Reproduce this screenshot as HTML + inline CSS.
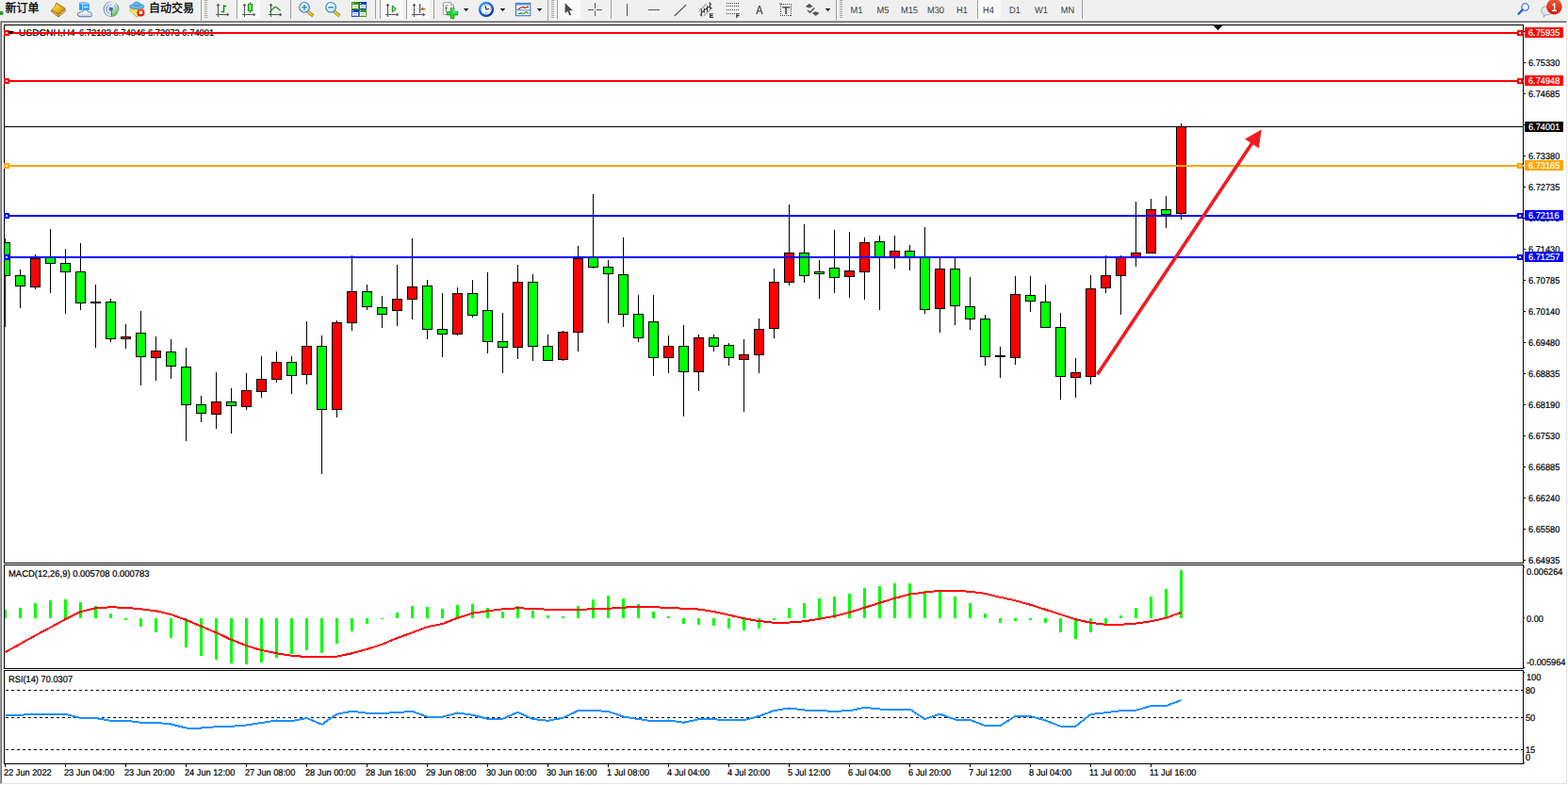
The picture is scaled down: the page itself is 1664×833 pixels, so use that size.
<!DOCTYPE html>
<html><head><meta charset="utf-8"><title>USDCNH,H4</title>
<style>
html,body{margin:0;padding:0;background:#fff;overflow:hidden}
body{width:1664px;height:833px;position:relative;font-family:"Liberation Sans",sans-serif}
#tb{position:absolute;left:0;top:0;width:1664px;height:22px;background:#f0f0f0}
svg{position:absolute;left:0;top:0}
.t{position:absolute;font:9.8px/10px "Liberation Sans",sans-serif;white-space:pre;transform-origin:0 0;transform:scaleX(.94);text-rendering:geometricPrecision;-webkit-text-stroke:.22px}
.lb{position:absolute;left:1618px;width:41px;height:11px}
.tf{position:absolute;top:7px;width:40px;text-align:center;font:9.8px/10px "Liberation Sans",sans-serif;color:#404040;transform:scaleX(.95);text-rendering:geometricPrecision}
</style></head><body>
<div id="tb"></div>
<div class="t" style="left:20.3px;top:31px;transform:scaleX(1.045)">USDCNH,H4</div><div class="t" style="left:84px;top:31px;transform:scaleX(.956)">6.72183 6.74046 6.72073 6.74001</div>
<div class="t" style="left:1622px;top:63px;color:#000;">6.75330</div><div class="t" style="left:1622px;top:96px;color:#000;">6.74685</div><div class="t" style="left:1622px;top:162px;color:#000;">6.73380</div><div class="t" style="left:1622px;top:195px;color:#000;">6.72735</div><div class="t" style="left:1622px;top:228px;color:#000;">6.72075</div><div class="t" style="left:1622px;top:261px;color:#000;">6.71430</div><div class="t" style="left:1622px;top:294px;color:#000;">6.70785</div><div class="t" style="left:1622px;top:327px;color:#000;">6.70140</div><div class="t" style="left:1622px;top:360px;color:#000;">6.69480</div><div class="t" style="left:1622px;top:393px;color:#000;">6.68835</div><div class="t" style="left:1622px;top:426px;color:#000;">6.68190</div><div class="t" style="left:1622px;top:459px;color:#000;">6.67530</div><div class="t" style="left:1622px;top:492px;color:#000;">6.66885</div><div class="t" style="left:1622px;top:525px;color:#000;">6.66240</div><div class="t" style="left:1622px;top:558px;color:#000;">6.65580</div><div class="t" style="left:1622px;top:591px;color:#000;">6.64935</div><div class="t" style="left:1619.6px;top:603px;color:#000;">0.006264</div><div class="t" style="left:1619.6px;top:653px;color:#000;">0.00</div><div class="t" style="left:1619.6px;top:699px;color:#000;">-0.005964</div><div class="t" style="left:1619.6px;top:715px;color:#000;">100</div><div class="t" style="left:1618.8px;top:729px;color:#000;">80</div><div class="t" style="left:1618.8px;top:758px;color:#000;">50</div><div class="t" style="left:1618.8px;top:792px;color:#000;">15</div><div class="t" style="left:1618.8px;top:800px;color:#000;">0</div><div class="t" style="left:4.3px;top:816px;color:#000;">22 Jun 2022</div><div class="t" style="left:68.3px;top:816px;color:#000;">23 Jun 04:00</div><div class="t" style="left:132.3px;top:816px;color:#000;">23 Jun 20:00</div><div class="t" style="left:196.3px;top:816px;color:#000;">24 Jun 12:00</div><div class="t" style="left:260.3px;top:816px;color:#000;">27 Jun 08:00</div><div class="t" style="left:324.3px;top:816px;color:#000;">28 Jun 00:00</div><div class="t" style="left:388.3px;top:816px;color:#000;">28 Jun 16:00</div><div class="t" style="left:452.3px;top:816px;color:#000;">29 Jun 08:00</div><div class="t" style="left:516.3px;top:816px;color:#000;">30 Jun 00:00</div><div class="t" style="left:580.3px;top:816px;color:#000;">30 Jun 16:00</div><div class="t" style="left:644.3px;top:816px;color:#000;">1 Jul 08:00</div><div class="t" style="left:708.3px;top:816px;color:#000;">4 Jul 04:00</div><div class="t" style="left:772.3px;top:816px;color:#000;">4 Jul 20:00</div><div class="t" style="left:836.3px;top:816px;color:#000;">5 Jul 12:00</div><div class="t" style="left:900.3px;top:816px;color:#000;">6 Jul 04:00</div><div class="t" style="left:964.3px;top:816px;color:#000;">6 Jul 20:00</div><div class="t" style="left:1028.3px;top:816px;color:#000;">7 Jul 12:00</div><div class="t" style="left:1092.3px;top:816px;color:#000;">8 Jul 04:00</div><div class="t" style="left:1156.3px;top:816px;color:#000;">11 Jul 00:00</div><div class="t" style="left:1220.3px;top:816px;color:#000;">11 Jul 16:00</div><div class="t" style="left:8.9px;top:605px;color:#000;transform:scaleX(.963)">MACD(12,26,9) 0.005708 0.000783</div><div class="t" style="left:8.9px;top:717px;color:#000;transform:scaleX(.947)">RSI(14) 70.0307</div>
<svg width="1664" height="833" viewBox="0 0 1664 833" shape-rendering="crispEdges">
<rect x="0" y="22" width="1664" height="1" fill="#a0a0a0"/>
<rect x="0" y="23" width="1664" height="1" fill="#696969"/>
<rect x="0" y="22" width="1" height="811" fill="#a0a0a0"/>
<rect x="1" y="23" width="1" height="810" fill="#696969"/>
<rect x="1662" y="23" width="1" height="810" fill="#e3e3e3"/>
<rect x="1663" y="22" width="1" height="811" fill="#ffffff"/>
<rect x="1" y="831" width="1662" height="1" fill="#e3e3e3"/>
<rect x="0" y="832" width="1664" height="1" fill="#ffffff"/>
<rect x="4" y="26" width="1613" height="1" fill="#000"/>
<rect x="4" y="597" width="1613" height="1" fill="#000"/>
<rect x="4" y="26" width="1" height="572" fill="#000"/>
<rect x="1616" y="26" width="1" height="572" fill="#000"/>
<rect x="4" y="599" width="1613" height="1" fill="#000"/>
<rect x="4" y="709" width="1613" height="1" fill="#000"/>
<rect x="4" y="599" width="1" height="111" fill="#000"/>
<rect x="1616" y="599" width="1" height="111" fill="#000"/>
<rect x="4" y="711" width="1613" height="1" fill="#000"/>
<rect x="4" y="810" width="1613" height="1" fill="#000"/>
<rect x="4" y="711" width="1" height="100" fill="#000"/>
<rect x="1616" y="711" width="1" height="100" fill="#000"/>
<rect x="1288" y="27" width="9" height="1" fill="#000"/>
<rect x="1289" y="28" width="7" height="1" fill="#000"/>
<rect x="1290" y="29" width="5" height="1" fill="#000"/>
<rect x="1291" y="30" width="3" height="1" fill="#000"/>
<rect x="1292" y="31" width="1" height="1" fill="#000"/>
<rect x="1617" y="33" width="2" height="1" fill="#000"/>
<rect x="1617" y="66" width="2" height="1" fill="#000"/>
<rect x="1617" y="99" width="2" height="1" fill="#000"/>
<rect x="1617" y="132" width="2" height="1" fill="#000"/>
<rect x="1617" y="165" width="2" height="1" fill="#000"/>
<rect x="1617" y="198" width="2" height="1" fill="#000"/>
<rect x="1617" y="231" width="2" height="1" fill="#000"/>
<rect x="1617" y="264" width="2" height="1" fill="#000"/>
<rect x="1617" y="297" width="2" height="1" fill="#000"/>
<rect x="1617" y="330" width="2" height="1" fill="#000"/>
<rect x="1617" y="363" width="2" height="1" fill="#000"/>
<rect x="1617" y="396" width="2" height="1" fill="#000"/>
<rect x="1617" y="429" width="2" height="1" fill="#000"/>
<rect x="1617" y="462" width="2" height="1" fill="#000"/>
<rect x="1617" y="495" width="2" height="1" fill="#000"/>
<rect x="1617" y="528" width="2" height="1" fill="#000"/>
<rect x="1617" y="561" width="2" height="1" fill="#000"/>
<rect x="1617" y="594" width="2" height="1" fill="#000"/>
<rect x="1617" y="601" width="1" height="1" fill="#000"/>
<rect x="1617" y="655" width="1" height="1" fill="#000"/>
<rect x="1617" y="708" width="1" height="1" fill="#000"/>
<rect x="1617" y="713" width="1" height="1" fill="#000"/>
<rect x="1617" y="809" width="1" height="1" fill="#000"/>
<rect x="5" y="253" width="1" height="94" fill="#000"/>
<rect x="5" y="257" width="6" height="36" fill="#000"/>
<rect x="5" y="258" width="5" height="34" fill="#00ff00"/>
<rect x="21" y="286" width="1" height="41" fill="#000"/>
<rect x="16" y="292" width="11" height="12" fill="#000"/>
<rect x="17" y="293" width="9" height="10" fill="#00ff00"/>
<rect x="37" y="270" width="1" height="37" fill="#000"/>
<rect x="32" y="274" width="11" height="31" fill="#000"/>
<rect x="33" y="275" width="9" height="29" fill="#ff0000"/>
<rect x="53" y="243" width="1" height="68" fill="#000"/>
<rect x="48" y="272" width="11" height="8" fill="#000"/>
<rect x="49" y="273" width="9" height="6" fill="#00ff00"/>
<rect x="69" y="264" width="1" height="69" fill="#000"/>
<rect x="64" y="279" width="11" height="10" fill="#000"/>
<rect x="65" y="280" width="9" height="8" fill="#00ff00"/>
<rect x="85" y="258" width="1" height="71" fill="#000"/>
<rect x="80" y="288" width="11" height="34" fill="#000"/>
<rect x="81" y="289" width="9" height="32" fill="#00ff00"/>
<rect x="101" y="302" width="1" height="67" fill="#000"/>
<rect x="96" y="320" width="11" height="2" fill="#000"/>
<rect x="117" y="317" width="1" height="46" fill="#000"/>
<rect x="112" y="320" width="11" height="40" fill="#000"/>
<rect x="113" y="321" width="9" height="38" fill="#00ff00"/>
<rect x="133" y="344" width="1" height="26" fill="#000"/>
<rect x="128" y="357" width="11" height="3" fill="#000"/>
<rect x="129" y="358" width="9" height="1" fill="#ff0000"/>
<rect x="149" y="330" width="1" height="79" fill="#000"/>
<rect x="144" y="353" width="11" height="26" fill="#000"/>
<rect x="145" y="354" width="9" height="24" fill="#00ff00"/>
<rect x="165" y="357" width="1" height="47" fill="#000"/>
<rect x="160" y="372" width="11" height="8" fill="#000"/>
<rect x="161" y="373" width="9" height="6" fill="#ff0000"/>
<rect x="181" y="360" width="1" height="42" fill="#000"/>
<rect x="176" y="373" width="11" height="16" fill="#000"/>
<rect x="177" y="374" width="9" height="14" fill="#00ff00"/>
<rect x="197" y="369" width="1" height="99" fill="#000"/>
<rect x="192" y="389" width="11" height="41" fill="#000"/>
<rect x="193" y="390" width="9" height="39" fill="#00ff00"/>
<rect x="213" y="420" width="1" height="28" fill="#000"/>
<rect x="208" y="429" width="11" height="10" fill="#000"/>
<rect x="209" y="430" width="9" height="8" fill="#00ff00"/>
<rect x="229" y="395" width="1" height="60" fill="#000"/>
<rect x="224" y="426" width="11" height="14" fill="#000"/>
<rect x="225" y="427" width="9" height="12" fill="#ff0000"/>
<rect x="245" y="412" width="1" height="48" fill="#000"/>
<rect x="240" y="426" width="11" height="5" fill="#000"/>
<rect x="241" y="427" width="9" height="3" fill="#00ff00"/>
<rect x="261" y="396" width="1" height="39" fill="#000"/>
<rect x="256" y="414" width="11" height="18" fill="#000"/>
<rect x="257" y="415" width="9" height="16" fill="#ff0000"/>
<rect x="277" y="378" width="1" height="44" fill="#000"/>
<rect x="272" y="402" width="11" height="14" fill="#000"/>
<rect x="273" y="403" width="9" height="12" fill="#ff0000"/>
<rect x="293" y="373" width="1" height="33" fill="#000"/>
<rect x="288" y="384" width="11" height="19" fill="#000"/>
<rect x="289" y="385" width="9" height="17" fill="#ff0000"/>
<rect x="309" y="378" width="1" height="40" fill="#000"/>
<rect x="304" y="384" width="11" height="15" fill="#000"/>
<rect x="305" y="385" width="9" height="13" fill="#00ff00"/>
<rect x="325" y="341" width="1" height="67" fill="#000"/>
<rect x="320" y="367" width="11" height="31" fill="#000"/>
<rect x="321" y="368" width="9" height="29" fill="#ff0000"/>
<rect x="341" y="356" width="1" height="147" fill="#000"/>
<rect x="336" y="367" width="11" height="68" fill="#000"/>
<rect x="337" y="368" width="9" height="66" fill="#00ff00"/>
<rect x="357" y="340" width="1" height="103" fill="#000"/>
<rect x="352" y="342" width="11" height="93" fill="#000"/>
<rect x="353" y="343" width="9" height="91" fill="#ff0000"/>
<rect x="373" y="271" width="1" height="80" fill="#000"/>
<rect x="368" y="309" width="11" height="34" fill="#000"/>
<rect x="369" y="310" width="9" height="32" fill="#ff0000"/>
<rect x="389" y="302" width="1" height="27" fill="#000"/>
<rect x="384" y="309" width="11" height="17" fill="#000"/>
<rect x="385" y="310" width="9" height="15" fill="#00ff00"/>
<rect x="405" y="314" width="1" height="34" fill="#000"/>
<rect x="400" y="326" width="11" height="8" fill="#000"/>
<rect x="401" y="327" width="9" height="6" fill="#00ff00"/>
<rect x="421" y="281" width="1" height="65" fill="#000"/>
<rect x="416" y="317" width="11" height="13" fill="#000"/>
<rect x="417" y="318" width="9" height="11" fill="#ff0000"/>
<rect x="437" y="253" width="1" height="86" fill="#000"/>
<rect x="432" y="304" width="11" height="14" fill="#000"/>
<rect x="433" y="305" width="9" height="12" fill="#ff0000"/>
<rect x="453" y="297" width="1" height="63" fill="#000"/>
<rect x="448" y="303" width="11" height="47" fill="#000"/>
<rect x="449" y="304" width="9" height="45" fill="#00ff00"/>
<rect x="469" y="311" width="1" height="68" fill="#000"/>
<rect x="464" y="349" width="11" height="6" fill="#000"/>
<rect x="465" y="350" width="9" height="4" fill="#00ff00"/>
<rect x="485" y="305" width="1" height="51" fill="#000"/>
<rect x="480" y="311" width="11" height="44" fill="#000"/>
<rect x="481" y="312" width="9" height="42" fill="#ff0000"/>
<rect x="501" y="297" width="1" height="40" fill="#000"/>
<rect x="496" y="311" width="11" height="24" fill="#000"/>
<rect x="497" y="312" width="9" height="22" fill="#00ff00"/>
<rect x="517" y="289" width="1" height="86" fill="#000"/>
<rect x="512" y="329" width="11" height="34" fill="#000"/>
<rect x="513" y="330" width="9" height="32" fill="#00ff00"/>
<rect x="533" y="332" width="1" height="64" fill="#000"/>
<rect x="528" y="362" width="11" height="7" fill="#000"/>
<rect x="529" y="363" width="9" height="5" fill="#00ff00"/>
<rect x="549" y="281" width="1" height="100" fill="#000"/>
<rect x="544" y="299" width="11" height="70" fill="#000"/>
<rect x="545" y="300" width="9" height="68" fill="#ff0000"/>
<rect x="565" y="291" width="1" height="92" fill="#000"/>
<rect x="560" y="299" width="11" height="69" fill="#000"/>
<rect x="561" y="300" width="9" height="67" fill="#00ff00"/>
<rect x="581" y="355" width="1" height="28" fill="#000"/>
<rect x="576" y="367" width="11" height="16" fill="#000"/>
<rect x="577" y="368" width="9" height="14" fill="#00ff00"/>
<rect x="597" y="351" width="1" height="32" fill="#000"/>
<rect x="592" y="352" width="11" height="30" fill="#000"/>
<rect x="593" y="353" width="9" height="28" fill="#ff0000"/>
<rect x="613" y="261" width="1" height="112" fill="#000"/>
<rect x="608" y="274" width="11" height="79" fill="#000"/>
<rect x="609" y="275" width="9" height="77" fill="#ff0000"/>
<rect x="629" y="206" width="1" height="79" fill="#000"/>
<rect x="624" y="273" width="11" height="11" fill="#000"/>
<rect x="625" y="274" width="9" height="9" fill="#00ff00"/>
<rect x="645" y="276" width="1" height="67" fill="#000"/>
<rect x="640" y="283" width="11" height="8" fill="#000"/>
<rect x="641" y="284" width="9" height="6" fill="#00ff00"/>
<rect x="661" y="252" width="1" height="95" fill="#000"/>
<rect x="656" y="291" width="11" height="43" fill="#000"/>
<rect x="657" y="292" width="9" height="41" fill="#00ff00"/>
<rect x="677" y="313" width="1" height="50" fill="#000"/>
<rect x="672" y="333" width="11" height="26" fill="#000"/>
<rect x="673" y="334" width="9" height="24" fill="#00ff00"/>
<rect x="693" y="313" width="1" height="86" fill="#000"/>
<rect x="688" y="341" width="11" height="39" fill="#000"/>
<rect x="689" y="342" width="9" height="37" fill="#00ff00"/>
<rect x="709" y="356" width="1" height="40" fill="#000"/>
<rect x="704" y="367" width="11" height="13" fill="#000"/>
<rect x="705" y="368" width="9" height="11" fill="#ff0000"/>
<rect x="725" y="345" width="1" height="97" fill="#000"/>
<rect x="720" y="367" width="11" height="28" fill="#000"/>
<rect x="721" y="368" width="9" height="26" fill="#00ff00"/>
<rect x="741" y="355" width="1" height="60" fill="#000"/>
<rect x="736" y="358" width="11" height="37" fill="#000"/>
<rect x="737" y="359" width="9" height="35" fill="#ff0000"/>
<rect x="757" y="355" width="1" height="18" fill="#000"/>
<rect x="752" y="358" width="11" height="10" fill="#000"/>
<rect x="753" y="359" width="9" height="8" fill="#00ff00"/>
<rect x="773" y="364" width="1" height="24" fill="#000"/>
<rect x="768" y="366" width="11" height="14" fill="#000"/>
<rect x="769" y="367" width="9" height="12" fill="#00ff00"/>
<rect x="789" y="360" width="1" height="77" fill="#000"/>
<rect x="784" y="376" width="11" height="6" fill="#000"/>
<rect x="785" y="377" width="9" height="4" fill="#ff0000"/>
<rect x="805" y="338" width="1" height="58" fill="#000"/>
<rect x="800" y="349" width="11" height="28" fill="#000"/>
<rect x="801" y="350" width="9" height="26" fill="#ff0000"/>
<rect x="821" y="285" width="1" height="74" fill="#000"/>
<rect x="816" y="299" width="11" height="50" fill="#000"/>
<rect x="817" y="300" width="9" height="48" fill="#ff0000"/>
<rect x="837" y="217" width="1" height="86" fill="#000"/>
<rect x="832" y="268" width="11" height="32" fill="#000"/>
<rect x="833" y="269" width="9" height="30" fill="#ff0000"/>
<rect x="853" y="238" width="1" height="62" fill="#000"/>
<rect x="848" y="268" width="11" height="25" fill="#000"/>
<rect x="849" y="269" width="9" height="23" fill="#00ff00"/>
<rect x="869" y="276" width="1" height="41" fill="#000"/>
<rect x="864" y="288" width="11" height="3" fill="#000"/>
<rect x="865" y="289" width="9" height="1" fill="#00ff00"/>
<rect x="885" y="244" width="1" height="67" fill="#000"/>
<rect x="880" y="284" width="11" height="11" fill="#000"/>
<rect x="881" y="285" width="9" height="9" fill="#00ff00"/>
<rect x="901" y="246" width="1" height="70" fill="#000"/>
<rect x="896" y="287" width="11" height="7" fill="#000"/>
<rect x="897" y="288" width="9" height="5" fill="#ff0000"/>
<rect x="917" y="252" width="1" height="66" fill="#000"/>
<rect x="912" y="257" width="11" height="32" fill="#000"/>
<rect x="913" y="258" width="9" height="30" fill="#ff0000"/>
<rect x="933" y="250" width="1" height="79" fill="#000"/>
<rect x="928" y="256" width="11" height="17" fill="#000"/>
<rect x="929" y="257" width="9" height="15" fill="#00ff00"/>
<rect x="949" y="250" width="1" height="35" fill="#000"/>
<rect x="944" y="266" width="11" height="7" fill="#000"/>
<rect x="945" y="267" width="9" height="5" fill="#ff0000"/>
<rect x="965" y="260" width="1" height="27" fill="#000"/>
<rect x="960" y="266" width="11" height="7" fill="#000"/>
<rect x="961" y="267" width="9" height="5" fill="#00ff00"/>
<rect x="981" y="241" width="1" height="92" fill="#000"/>
<rect x="976" y="273" width="11" height="56" fill="#000"/>
<rect x="977" y="274" width="9" height="54" fill="#00ff00"/>
<rect x="997" y="274" width="1" height="79" fill="#000"/>
<rect x="992" y="285" width="11" height="43" fill="#000"/>
<rect x="993" y="286" width="9" height="41" fill="#ff0000"/>
<rect x="1013" y="274" width="1" height="71" fill="#000"/>
<rect x="1008" y="285" width="11" height="40" fill="#000"/>
<rect x="1009" y="286" width="9" height="38" fill="#00ff00"/>
<rect x="1029" y="294" width="1" height="56" fill="#000"/>
<rect x="1024" y="325" width="11" height="14" fill="#000"/>
<rect x="1025" y="326" width="9" height="12" fill="#00ff00"/>
<rect x="1045" y="334" width="1" height="54" fill="#000"/>
<rect x="1040" y="338" width="11" height="41" fill="#000"/>
<rect x="1041" y="339" width="9" height="39" fill="#00ff00"/>
<rect x="1061" y="368" width="1" height="33" fill="#000"/>
<rect x="1056" y="377" width="11" height="2" fill="#000"/>
<rect x="1077" y="293" width="1" height="94" fill="#000"/>
<rect x="1072" y="312" width="11" height="68" fill="#000"/>
<rect x="1073" y="313" width="9" height="66" fill="#ff0000"/>
<rect x="1093" y="293" width="1" height="38" fill="#000"/>
<rect x="1088" y="313" width="11" height="7" fill="#000"/>
<rect x="1089" y="314" width="9" height="5" fill="#00ff00"/>
<rect x="1109" y="302" width="1" height="46" fill="#000"/>
<rect x="1104" y="320" width="11" height="28" fill="#000"/>
<rect x="1105" y="321" width="9" height="26" fill="#00ff00"/>
<rect x="1125" y="332" width="1" height="92" fill="#000"/>
<rect x="1120" y="347" width="11" height="53" fill="#000"/>
<rect x="1121" y="348" width="9" height="51" fill="#00ff00"/>
<rect x="1141" y="380" width="1" height="42" fill="#000"/>
<rect x="1136" y="395" width="11" height="6" fill="#000"/>
<rect x="1137" y="396" width="9" height="4" fill="#ff0000"/>
<rect x="1157" y="292" width="1" height="116" fill="#000"/>
<rect x="1152" y="306" width="11" height="94" fill="#000"/>
<rect x="1153" y="307" width="9" height="92" fill="#ff0000"/>
<rect x="1173" y="271" width="1" height="40" fill="#000"/>
<rect x="1168" y="292" width="11" height="14" fill="#000"/>
<rect x="1169" y="293" width="9" height="12" fill="#ff0000"/>
<rect x="1189" y="271" width="1" height="63" fill="#000"/>
<rect x="1184" y="273" width="11" height="20" fill="#000"/>
<rect x="1185" y="274" width="9" height="18" fill="#ff0000"/>
<rect x="1205" y="214" width="1" height="69" fill="#000"/>
<rect x="1200" y="268" width="11" height="5" fill="#000"/>
<rect x="1201" y="269" width="9" height="3" fill="#ff0000"/>
<rect x="1221" y="211" width="1" height="58" fill="#000"/>
<rect x="1216" y="222" width="11" height="47" fill="#000"/>
<rect x="1217" y="223" width="9" height="45" fill="#ff0000"/>
<rect x="1237" y="208" width="1" height="34" fill="#000"/>
<rect x="1232" y="222" width="11" height="6" fill="#000"/>
<rect x="1233" y="223" width="9" height="4" fill="#00ff00"/>
<rect x="1253" y="131" width="1" height="102" fill="#000"/>
<rect x="1248" y="134" width="11" height="93" fill="#000"/>
<rect x="1249" y="135" width="9" height="91" fill="#ff0000"/>
<rect x="5" y="134" width="1612" height="1" fill="#000"/>
<rect x="5" y="175" width="1612" height="2" fill="#ffa500"/>
<rect x="4" y="173" width="6" height="6" fill="#ffa500"/>
<rect x="6" y="175" width="2" height="2" fill="#fff"/>
<rect x="1610" y="173" width="6" height="6" fill="#ffa500"/>
<rect x="1612" y="175" width="2" height="2" fill="#fff"/>
<rect x="5" y="228" width="1612" height="2" fill="#0000ff"/>
<rect x="4" y="226" width="6" height="6" fill="#0000ff"/>
<rect x="6" y="228" width="2" height="2" fill="#fff"/>
<rect x="1610" y="226" width="6" height="6" fill="#0000ff"/>
<rect x="1612" y="228" width="2" height="2" fill="#fff"/>
<rect x="5" y="272" width="1612" height="2" fill="#0000ff"/>
<rect x="4" y="270" width="6" height="6" fill="#0000ff"/>
<rect x="6" y="272" width="2" height="2" fill="#fff"/>
<rect x="1610" y="270" width="6" height="6" fill="#0000ff"/>
<rect x="1612" y="272" width="2" height="2" fill="#fff"/>
<rect x="5" y="85" width="1612" height="2" fill="#ff0000"/>
<rect x="4" y="83" width="6" height="6" fill="#ff0000"/>
<rect x="6" y="85" width="2" height="2" fill="#fff"/>
<rect x="1610" y="83" width="6" height="6" fill="#ff0000"/>
<rect x="1612" y="85" width="2" height="2" fill="#fff"/>
<rect x="5" y="34" width="1612" height="2" fill="#ff0000"/>
<rect x="4" y="32" width="6" height="6" fill="#ff0000"/>
<rect x="6" y="34" width="2" height="2" fill="#fff"/>
<rect x="1610" y="32" width="6" height="6" fill="#ff0000"/>
<rect x="1612" y="34" width="2" height="2" fill="#fff"/>
<rect x="5" y="647" width="2" height="9" fill="#00ff00"/>
<rect x="20" y="645" width="3" height="11" fill="#00ff00"/>
<rect x="36" y="640" width="3" height="16" fill="#00ff00"/>
<rect x="52" y="637" width="3" height="19" fill="#00ff00"/>
<rect x="68" y="636" width="3" height="20" fill="#00ff00"/>
<rect x="84" y="639" width="3" height="17" fill="#00ff00"/>
<rect x="100" y="643" width="3" height="13" fill="#00ff00"/>
<rect x="116" y="651" width="3" height="5" fill="#00ff00"/>
<rect x="132" y="656" width="3" height="2" fill="#00ff00"/>
<rect x="148" y="656" width="3" height="9" fill="#00ff00"/>
<rect x="164" y="656" width="3" height="15" fill="#00ff00"/>
<rect x="180" y="656" width="3" height="21" fill="#00ff00"/>
<rect x="196" y="656" width="3" height="31" fill="#00ff00"/>
<rect x="212" y="656" width="3" height="40" fill="#00ff00"/>
<rect x="228" y="656" width="3" height="44" fill="#00ff00"/>
<rect x="244" y="656" width="3" height="48" fill="#00ff00"/>
<rect x="260" y="656" width="3" height="49" fill="#00ff00"/>
<rect x="276" y="656" width="3" height="47" fill="#00ff00"/>
<rect x="292" y="656" width="3" height="42" fill="#00ff00"/>
<rect x="308" y="656" width="3" height="38" fill="#00ff00"/>
<rect x="324" y="656" width="3" height="34" fill="#00ff00"/>
<rect x="340" y="656" width="3" height="37" fill="#00ff00"/>
<rect x="356" y="656" width="3" height="27" fill="#00ff00"/>
<rect x="372" y="656" width="3" height="14" fill="#00ff00"/>
<rect x="388" y="656" width="3" height="6" fill="#00ff00"/>
<rect x="404" y="656" width="3" height="1" fill="#00ff00"/>
<rect x="420" y="650" width="3" height="6" fill="#00ff00"/>
<rect x="436" y="643" width="3" height="13" fill="#00ff00"/>
<rect x="452" y="644" width="3" height="12" fill="#00ff00"/>
<rect x="468" y="646" width="3" height="10" fill="#00ff00"/>
<rect x="484" y="642" width="3" height="14" fill="#00ff00"/>
<rect x="500" y="641" width="3" height="15" fill="#00ff00"/>
<rect x="516" y="645" width="3" height="11" fill="#00ff00"/>
<rect x="532" y="649" width="3" height="7" fill="#00ff00"/>
<rect x="548" y="643" width="3" height="13" fill="#00ff00"/>
<rect x="564" y="648" width="3" height="8" fill="#00ff00"/>
<rect x="580" y="653" width="3" height="3" fill="#00ff00"/>
<rect x="596" y="654" width="3" height="2" fill="#00ff00"/>
<rect x="612" y="643" width="3" height="13" fill="#00ff00"/>
<rect x="628" y="636" width="3" height="20" fill="#00ff00"/>
<rect x="644" y="632" width="3" height="24" fill="#00ff00"/>
<rect x="660" y="635" width="3" height="21" fill="#00ff00"/>
<rect x="676" y="641" width="3" height="15" fill="#00ff00"/>
<rect x="692" y="649" width="3" height="7" fill="#00ff00"/>
<rect x="708" y="654" width="3" height="2" fill="#00ff00"/>
<rect x="724" y="656" width="3" height="6" fill="#00ff00"/>
<rect x="740" y="656" width="3" height="7" fill="#00ff00"/>
<rect x="756" y="656" width="3" height="8" fill="#00ff00"/>
<rect x="772" y="656" width="3" height="11" fill="#00ff00"/>
<rect x="788" y="656" width="3" height="13" fill="#00ff00"/>
<rect x="804" y="656" width="3" height="11" fill="#00ff00"/>
<rect x="820" y="656" width="3" height="2" fill="#00ff00"/>
<rect x="836" y="645" width="3" height="11" fill="#00ff00"/>
<rect x="852" y="640" width="3" height="16" fill="#00ff00"/>
<rect x="868" y="635" width="3" height="21" fill="#00ff00"/>
<rect x="884" y="633" width="3" height="23" fill="#00ff00"/>
<rect x="900" y="630" width="3" height="26" fill="#00ff00"/>
<rect x="916" y="624" width="3" height="32" fill="#00ff00"/>
<rect x="932" y="622" width="3" height="34" fill="#00ff00"/>
<rect x="948" y="619" width="3" height="37" fill="#00ff00"/>
<rect x="964" y="619" width="3" height="37" fill="#00ff00"/>
<rect x="980" y="627" width="3" height="29" fill="#00ff00"/>
<rect x="996" y="627" width="3" height="29" fill="#00ff00"/>
<rect x="1012" y="633" width="3" height="23" fill="#00ff00"/>
<rect x="1028" y="640" width="3" height="16" fill="#00ff00"/>
<rect x="1044" y="651" width="3" height="5" fill="#00ff00"/>
<rect x="1060" y="656" width="3" height="5" fill="#00ff00"/>
<rect x="1076" y="656" width="3" height="3" fill="#00ff00"/>
<rect x="1092" y="656" width="3" height="2" fill="#00ff00"/>
<rect x="1108" y="656" width="3" height="5" fill="#00ff00"/>
<rect x="1124" y="656" width="3" height="15" fill="#00ff00"/>
<rect x="1140" y="656" width="3" height="22" fill="#00ff00"/>
<rect x="1156" y="656" width="3" height="15" fill="#00ff00"/>
<rect x="1172" y="656" width="3" height="6" fill="#00ff00"/>
<rect x="1188" y="653" width="3" height="3" fill="#00ff00"/>
<rect x="1204" y="645" width="3" height="11" fill="#00ff00"/>
<rect x="1220" y="633" width="3" height="23" fill="#00ff00"/>
<rect x="1236" y="625" width="3" height="31" fill="#00ff00"/>
<rect x="1252" y="605" width="3" height="51" fill="#00ff00"/>
<path d="M6 732.5H1616" stroke="#000" stroke-width="1" stroke-dasharray="3 3" fill="none"/>
<path d="M6 761.5H1616" stroke="#000" stroke-width="1" stroke-dasharray="3 3" fill="none"/>
<path d="M6 795.5H1616" stroke="#000" stroke-width="1" stroke-dasharray="3 3" fill="none"/>
<rect x="5" y="811" width="1" height="3" fill="#000"/>
<rect x="69" y="811" width="1" height="3" fill="#000"/>
<rect x="133" y="811" width="1" height="3" fill="#000"/>
<rect x="197" y="811" width="1" height="3" fill="#000"/>
<rect x="261" y="811" width="1" height="3" fill="#000"/>
<rect x="325" y="811" width="1" height="3" fill="#000"/>
<rect x="389" y="811" width="1" height="3" fill="#000"/>
<rect x="453" y="811" width="1" height="3" fill="#000"/>
<rect x="517" y="811" width="1" height="3" fill="#000"/>
<rect x="581" y="811" width="1" height="3" fill="#000"/>
<rect x="645" y="811" width="1" height="3" fill="#000"/>
<rect x="709" y="811" width="1" height="3" fill="#000"/>
<rect x="773" y="811" width="1" height="3" fill="#000"/>
<rect x="837" y="811" width="1" height="3" fill="#000"/>
<rect x="901" y="811" width="1" height="3" fill="#000"/>
<rect x="965" y="811" width="1" height="3" fill="#000"/>
<rect x="1029" y="811" width="1" height="3" fill="#000"/>
<rect x="1093" y="811" width="1" height="3" fill="#000"/>
<rect x="1157" y="811" width="1" height="3" fill="#000"/>
<rect x="1221" y="811" width="1" height="3" fill="#000"/>
<polyline points="5.5,692.05 21.5,683.3 37.5,674.3 53.5,665.8 69.5,657.05 85.5,649.05 101.5,645.3 117.5,644.3 133.5,644.8 149.5,646.3 165.5,648.3 181.5,652.05 197.5,657.8 213.5,664.55 229.5,671.3 245.5,678.8 261.5,685.05 277.5,690.05 293.5,693.3 309.5,695.8 325.5,697.05 341.5,697.05 357.5,696.55 373.5,693.3 389.5,688.8 405.5,683.8 421.5,677.05 437.5,671.3 453.5,665.3 469.5,662.05 485.5,655.8 501.5,650.8 517.5,648.3 533.5,646.3 549.5,645.3 565.5,645.8 581.5,646.8 597.5,647.05 613.5,646.8 629.5,646.3 645.5,645.8 661.5,644.55 677.5,644.3 693.5,644.3 709.5,644.8 725.5,645.8 741.5,646.55 757.5,649.05 773.5,652.55 789.5,656.3 805.5,659.05 821.5,660.8 837.5,660.55 853.5,659.3 869.5,656.8 885.5,653.8 901.5,649.8 917.5,644.8 933.5,639.8 949.5,634.8 965.5,630.55 981.5,628.55 997.5,626.8 1013.5,626.8 1029.5,627.8 1045.5,629.8 1061.5,633.8 1077.5,637.3 1093.5,641.8 1109.5,646.8 1125.5,652.05 1141.5,657.3 1157.5,660.8 1173.5,662.8 1189.5,662.8 1205.5,661.55 1221.5,659.3 1237.5,655.8 1253.5,649.8" fill="none" stroke="#ff0000" stroke-width="2" stroke-linejoin="round" />
<polyline points="5.5,758.75 21.5,758.75 37.5,757.75 53.5,757.75 69.5,757.75 85.5,762 101.5,762 117.5,764.75 133.5,764.75 149.5,766.75 165.5,766.75 181.5,768.5 197.5,772.5 213.5,772.5 229.5,771.25 245.5,770.75 261.5,769.5 277.5,767 293.5,764.5 309.5,765.25 325.5,762 341.5,768.75 357.5,757.75 373.5,754.75 389.5,756.75 405.5,756.75 421.5,756.25 437.5,754.75 453.5,760.75 469.5,760.75 485.5,756.5 501.5,758.75 517.5,762.75 533.5,762.75 549.5,755.75 565.5,763 581.5,764.75 597.5,761.75 613.5,754 629.5,754 645.5,755 661.5,760.5 677.5,763 693.5,765.5 709.5,764.5 725.5,766.75 741.5,763.25 757.5,763.25 773.5,764.5 789.5,764.25 805.5,760 821.5,754 837.5,751.5 853.5,753.5 869.5,754.25 885.5,754.75 901.5,754.25 917.5,750.75 933.5,752.5 949.5,752.5 965.5,752.5 981.5,763 997.5,757.75 1013.5,763.5 1029.5,764 1045.5,770 1061.5,770 1077.5,760 1093.5,760 1109.5,764.5 1125.5,770.75 1141.5,770.75 1157.5,758 1173.5,756.25 1189.5,754.25 1205.5,753.75 1221.5,749 1237.5,749 1253.5,743" fill="none" stroke="#1e90ff" stroke-width="2" stroke-linejoin="round" />
</svg>
<div class="lb" style="top:29px;background:#ff0000"></div><div class="lb" style="top:80px;background:#ff0000"></div><div class="lb" style="top:129px;background:#000"></div><div class="lb" style="top:170px;background:#ffa500"></div><div class="lb" style="top:223px;background:#0000ff"></div><div class="lb" style="top:267px;background:#0000ff"></div><div class="t" style="left:1622px;top:31px;color:#fff;">6.75935</div><div class="t" style="left:1622px;top:82px;color:#fff;">6.74948</div><div class="t" style="left:1622px;top:131px;color:#fff;">6.74001</div><div class="t" style="left:1622px;top:172px;color:#fff;">6.73165</div><div class="t" style="left:1622px;top:225px;color:#fff;">6.72116</div><div class="t" style="left:1622px;top:269px;color:#fff;">6.71257</div>
<svg width="1664" height="833" viewBox="0 0 1664 833">
<g id="arrow" fill="#ed1c24" stroke="none">
<path d="M1164.6 397.2L1329 151.6" stroke="#ed1c24" stroke-width="3.6" fill="none"/>
<path d="M1338.7 137.6L1321.1 147.4L1335.9 157.3Z"/>
</g>
<path d="M8 33h7l-3.5 3.7z" fill="#000"/>
<text x="5.600" y="13" font-size="12" fill="#000" stroke="#000" stroke-width=".3" font-family="&quot;Liberation Sans&quot;, &quot;Noto Sans CJK SC&quot;, sans-serif">新订单</text>
<text x="158" y="13" font-size="12" fill="#000" stroke="#000" stroke-width=".3" font-family="&quot;Liberation Sans&quot;, &quot;Noto Sans CJK SC&quot;, sans-serif">自动交易</text>
<rect x="0" y="12.5" width="3" height="3" fill="#18b018" stroke="#0a7a0a" stroke-width=".6"/>
<defs><linearGradient id="gd" x1="0" y1="0" x2="1" y2="1"><stop offset="0" stop-color="#fbe36a"/><stop offset=".55" stop-color="#e8b820"/><stop offset="1" stop-color="#b87c10"/></linearGradient><linearGradient id="bl" x1="0" y1="0" x2="0" y2="1"><stop offset="0" stop-color="#49b6f4"/><stop offset="1" stop-color="#1368d6"/></linearGradient><linearGradient id="gr" x1="0" y1="0" x2="1" y2="0"><stop offset="0" stop-color="#0fa80f"/><stop offset=".5" stop-color="#8dff8d"/><stop offset="1" stop-color="#0fa80f"/></linearGradient><radialGradient id="lens" cx=".4" cy=".35" r=".7"><stop offset="0" stop-color="#ffffff"/><stop offset="1" stop-color="#bfe6fb"/></radialGradient><linearGradient id="rd" x1="0" y1="0" x2="0" y2="1"><stop offset="0" stop-color="#ea5a3a"/><stop offset="1" stop-color="#d41c0c"/></linearGradient><linearGradient id="clk" x1=".15" y1="0" x2=".85" y2="1"><stop offset="0" stop-color="#3fa0f4"/><stop offset=".5" stop-color="#1464d2"/><stop offset="1" stop-color="#06359c"/></linearGradient></defs>
<path d="M59.3 2.900L60.5 2.900L69.3 8.800L70.1 11.800L62.7 17.900L61.5 17.900L54 12.200L54 11L57.8 6.900Z" fill="#a86c10"/>
<path d="M59.8 3.800L68.6 9.400L62.3 14.600L55.2 10.600L58.6 6.800Z" fill="url(#gd)"/>
<path d="M54.8 11.500L62.2 15.800L62.2 17.100L54.8 12.300Z" fill="#f4cf4a"/>
<path d="M62.8 15.600L69.1 10.300L69.4 11.500L62.8 17Z" fill="#e9dca0"/>
<path d="M63.9 15.400L64.1 16M65.3 14.300L65.5 14.900M66.7 13.100L66.9 13.700M68.1 11.900L68.3 12.5" stroke="#a86c10" stroke-width=".5"/>
<defs><linearGradient id="cl" x1="0" y1="0" x2="0" y2="1"><stop offset="0" stop-color="#ffffff"/><stop offset=".5" stop-color="#f0f4fa"/><stop offset="1" stop-color="#b4c4de"/></linearGradient></defs>
<path d="M84.1 2.700L85.2 2.200L91.5 2.200L95 4.400L95 10.800L84.1 10.800Z" fill="#1a98f4"/>
<path d="M84.4 2.600L91.4 2.300L94.8 4.500L87.6 4.900Z" fill="#9fc4f6"/>
<path d="M87.5 5L95 4.500L95 10.800L87.5 10.800Z" fill="#38adfa"/>
<path d="M84.3 2.800L87.5 5L87.5 10.8" stroke="#e6f4ff" stroke-width=".6" fill="none"/>
<rect x="89" y="7" width="4.7" height=".9" fill="#f4fbff"/>
<path d="M85.3 17.700C83.3 17.7 82.2 16.6 82.3 15.200C82.4 13.7 83.7 12.9 85.1 13.200C85.5 12 87 11.8 87.8 12.600C88.3 11.2 89.5 10.5 90.8 10.600C92.3 10.7 93.3 11.7 93.5 13C94.6 12 96.5 12.4 97 13.700C97.3 14.4 97.1 15 96.9 15.400C97.8 15.9 97.8 17.1 96.8 17.500C96.3 17.7 95.8 17.7 95.3 17.700Z" fill="url(#cl)" stroke="#4a68a8" stroke-width=".9"/>
<defs><linearGradient id="sg" x1=".3" y1="0" x2=".7" y2="1"><stop offset="0" stop-color="#dbe8d4"/><stop offset=".55" stop-color="#a9d3a2"/><stop offset="1" stop-color="#2fa32f"/></linearGradient><linearGradient id="sb" x1="0" y1="0" x2="1" y2="0"><stop offset="0" stop-color="#3f6bd8"/><stop offset="1" stop-color="#3f6bd8" stop-opacity=".15"/></linearGradient></defs>
<circle cx="118" cy="9.8" r="7.9" fill="#f1f2ee"/>
<path d="M118 9.800L118 17.800A8 8 0 0 0 122.5 3.200Z" fill="url(#sg)"/>
<g fill="none" stroke="url(#sb)" stroke-width="1.05" opacity=".8"><path d="M118 17.600A7.8 7.8 0 0 1 118 2A7.8 7.8 0 0 1 121 2.6"/><path d="M118 14.900A5.1 5.1 0 0 1 118 4.700A5.1 5.1 0 0 1 120 5.1"/><path d="M118 12.400A2.700 2.700 0 0 1 118 7.1"/></g>
<path d="M122.5 3.300A7.9 7.9 0 0 1 125.7 11.6" fill="none" stroke="#4a86a8" stroke-width="1" opacity=".8"/>
<path d="M121 5.500A5.1 5.1 0 0 1 122.9 11.5" fill="none" stroke="#7faab0" stroke-width=".9" opacity=".7"/>
<circle cx="118" cy="9.6" r="1.9" fill="#2f5fd8"/><rect x="117.75" y="10.3" width="1.15" height="7.6" fill="#1fa01f"/>
<path d="M138.2 8.800L152.3 8.300L151 11L146.5 17.700L144.5 17.700L138.2 11.500Z" fill="#f8dc58" stroke="#c79a1c" stroke-width=".7"/>
<path d="M139 9.500L145 16.5" stroke="#fff6b8" stroke-width="1" fill="none"/>
<path d="M137.5 6.800C137.5 5.7 139.3 5 141.3 4.900C141.5 3.2 143.2 2.1 145.2 2.100C147.2 2.1 148.7 3.2 149 4.800C151.2 4.8 152.9 5.4 152.9 6.700C152.9 8.4 149.5 9.6 145.2 9.600C140.9 9.6 137.5 8.5 137.5 6.800Z" fill="#63b8ea" stroke="#2a7cb6" stroke-width=".7"/>
<path d="M141.5 5.500C142.5 6.5 147.8 6.5 148.9 5.4" stroke="#2a7cb6" stroke-width=".7" fill="none"/>
<circle cx="149.4" cy="13.4" r="4.1" fill="url(#rd)"/><rect x="147.8" y="11.8" width="3.2" height="3.2" fill="#fff"/>
<rect x="213" y="0" width="1" height="22" fill="#a0a0a0" shape-rendering="crispEdges"/>
<rect x="217" y="0" width="3" height="1" fill="#a6a6a6" shape-rendering="crispEdges"/>
<rect x="217" y="2" width="3" height="1" fill="#a6a6a6" shape-rendering="crispEdges"/>
<rect x="217" y="4" width="3" height="1" fill="#a6a6a6" shape-rendering="crispEdges"/>
<rect x="217" y="6" width="3" height="1" fill="#a6a6a6" shape-rendering="crispEdges"/>
<rect x="217" y="8" width="3" height="1" fill="#a6a6a6" shape-rendering="crispEdges"/>
<rect x="217" y="10" width="3" height="1" fill="#a6a6a6" shape-rendering="crispEdges"/>
<rect x="217" y="12" width="3" height="1" fill="#a6a6a6" shape-rendering="crispEdges"/>
<rect x="217" y="14" width="3" height="1" fill="#a6a6a6" shape-rendering="crispEdges"/>
<rect x="217" y="16" width="3" height="1" fill="#a6a6a6" shape-rendering="crispEdges"/>
<rect x="217" y="18" width="3" height="1" fill="#a6a6a6" shape-rendering="crispEdges"/>
<g fill="#555555" shape-rendering="crispEdges"><rect x="231" y="5" width="1" height="13"/><rect x="229" y="15" width="13" height="1"/></g>
<path d="M231.5 3.600l2 2.600h-4z M243.4 15.500l-2.600 -2v4z" fill="#555555"/>
<path d="M237.5 5.300V13.400M237.500 6.500H240.300M234.800 12.300H237.5" stroke="#0a8a0a" stroke-width="1.3" fill="none"/>
<rect x="251" y="0" width="1" height="20" fill="#a0a0a0" shape-rendering="crispEdges"/>
<rect x="252" y="0" width="24" height="20" fill="#f9f9f9" shape-rendering="crispEdges"/>
<g fill="#555555" shape-rendering="crispEdges"><rect x="259" y="5" width="1" height="13"/><rect x="257" y="15" width="13" height="1"/></g>
<path d="M259.5 3.600l2 2.600h-4z M271.4 15.500l-2.600 -2v4z" fill="#555555"/>
<rect x="265" y="2.3" width="1" height="11.5" fill="#0a8a0a"/><rect x="263.3" y="4.3" width="4.5" height="7.4" fill="url(#gr)" stroke="#0a8a0a" stroke-width=".9"/>
<g fill="#555555" shape-rendering="crispEdges"><rect x="287" y="5" width="1" height="13"/><rect x="285" y="15" width="13" height="1"/></g>
<path d="M287.5 3.600l2 2.600h-4z M299.4 15.500l-2.600 -2v4z" fill="#555555"/>
<path d="M286.2 12.900C288.5 11.5 290 7.5 292.2 7.400C294.3 7.3 295.6 10.4 297.8 11.2" stroke="#2a8a2a" stroke-width="1.3" fill="none"/>
<rect x="308" y="0" width="1" height="20" fill="#a0a0a0" shape-rendering="crispEdges"/>
<path d="M326.6 12.200L332.3 16.9" stroke="#9a7a10" stroke-width="3.4" stroke-linecap="butt"/>
<path d="M326.6 12.200L332 16.65" stroke="#ecc830" stroke-width="2"/>
<circle cx="323" cy="7.8" r="5.3" fill="url(#lens)" stroke="#2f80cc" stroke-width="1.15"/>
<path d="M320.2 7.800h5.600M323 5v5.6" stroke="#3d8db8" stroke-width="1.6" fill="none"/>
<path d="M354.70000000000005 12.200L360.40000000000003 16.9" stroke="#9a7a10" stroke-width="3.4" stroke-linecap="butt"/>
<path d="M354.70000000000005 12.200L360.1 16.65" stroke="#ecc830" stroke-width="2"/>
<circle cx="351.1" cy="7.8" r="5.3" fill="url(#lens)" stroke="#2f80cc" stroke-width="1.15"/>
<path d="M348.3 7.800h5.6" stroke="#3d8db8" stroke-width="1.6" fill="none"/>
<g shape-rendering="crispEdges"><rect x="373" y="2" width="8" height="8" fill="#3fa313"/>
<rect x="373" y="2" width="8" height="2" fill="#2f9205"/>
<rect x="374" y="5" width="6" height="4" fill="#ffffff"/>
<rect x="375" y="6" width="4" height="1" fill="#a8dc90"/>
<rect x="375" y="8" width="4" height="1" fill="#a8dc90"/>
<rect x="374" y="3" width="1" height="1" fill="#e8f0ff"/></g>
<g shape-rendering="crispEdges"><rect x="381" y="2" width="8" height="8" fill="#2555d2"/>
<rect x="381" y="2" width="8" height="2" fill="#0d38b4"/>
<rect x="382" y="5" width="6" height="4" fill="#ffffff"/>
<rect x="383" y="6" width="4" height="1" fill="#88a6ee"/>
<rect x="383" y="8" width="4" height="1" fill="#88a6ee"/>
<rect x="382" y="3" width="1" height="1" fill="#e8f0ff"/></g>
<g shape-rendering="crispEdges"><rect x="373" y="10" width="8" height="8" fill="#2555d2"/>
<rect x="373" y="10" width="8" height="2" fill="#0d38b4"/>
<rect x="374" y="13" width="6" height="4" fill="#ffffff"/>
<rect x="375" y="14" width="4" height="1" fill="#88a6ee"/>
<rect x="375" y="16" width="4" height="1" fill="#88a6ee"/>
<rect x="374" y="11" width="1" height="1" fill="#e8f0ff"/></g>
<g shape-rendering="crispEdges"><rect x="381" y="10" width="8" height="8" fill="#3fa313"/>
<rect x="381" y="10" width="8" height="2" fill="#2f9205"/>
<rect x="382" y="13" width="6" height="4" fill="#ffffff"/>
<rect x="383" y="14" width="4" height="1" fill="#a8dc90"/>
<rect x="383" y="16" width="4" height="1" fill="#a8dc90"/>
<rect x="382" y="11" width="1" height="1" fill="#e8f0ff"/></g>
<rect x="398" y="0" width="1" height="20" fill="#a0a0a0" shape-rendering="crispEdges"/>
<rect x="403" y="0" width="1" height="20" fill="#a0a0a0" shape-rendering="crispEdges"/>
<rect x="404" y="0" width="24" height="20" fill="#f9f9f9" shape-rendering="crispEdges"/>
<g fill="#555555" shape-rendering="crispEdges"><rect x="411" y="5" width="1" height="13"/><rect x="409" y="15" width="13" height="1"/></g>
<path d="M411.5 3.600l2 2.600h-4z M423.4 15.500l-2.600 -2v4z" fill="#555555"/>
<path d="M416.3 6L420.3 9.500L416.3 12.900Z" fill="#7be07b" stroke="#128a12" stroke-width="1"/>
<rect x="431" y="0" width="1" height="20" fill="#a0a0a0" shape-rendering="crispEdges"/>
<rect x="432" y="0" width="24" height="20" fill="#f9f9f9" shape-rendering="crispEdges"/>
<g fill="#555555" shape-rendering="crispEdges"><rect x="439" y="5" width="1" height="13"/><rect x="437" y="15" width="13" height="1"/></g>
<path d="M439.5 3.600l2 2.600h-4z M451.4 15.500l-2.600 -2v4z" fill="#555555"/>
<rect x="445" y="4" width="1.3" height="9.8" fill="#1a6aa0"/>
<path d="M446.5 9.500L449.3 7.300V8.900H451.300V10.100H449.300V11.700Z" fill="#e04a08"/>
<rect x="460" y="0" width="1" height="20" fill="#a0a0a0" shape-rendering="crispEdges"/>
<path d="M471.2 2.700H478.500L481.5 5.700V14.500Q481.5 15.5 480.5 15.500H471.200Q470.3 15.5 470.3 14.500V3.600Q470.3 2.7 471.2 2.700Z" fill="#fbfbfb" stroke="#8c8c8c" stroke-width=".9"/>
<path d="M478.5 2.700V5.700H481.5" fill="#e4e4e4" stroke="#8c8c8c" stroke-width=".7"/>
<path d="M475.3 5.500C473.9 5.3 473.4 6.2 473.4 7.400V12.300M472.300 8.500H474.8" stroke="#555" stroke-width=".9" fill="none"/>
<path d="M478.4 8.400H481.900V12.400H485.800V15.900H481.900V19.700H478.400V15.900H474.300V12.400H478.400Z" fill="#1fd83a" stroke="#0b8c0b" stroke-width=".8"/>
<path d="M479.2 9.200H481.100V13.200H485" stroke="#8dfb9a" stroke-width=".9" fill="none"/>
<path d="M492 9h5.400l-2.700 3z" fill="#000"/>
<circle cx="516" cy="9.9" r="6.9" fill="#f4f6f8" stroke="url(#clk)" stroke-width="2.5"/>
<circle cx="516" cy="9.9" r="4.6" fill="none" stroke="#8a929c" stroke-width="1" stroke-dasharray=".6 1.81"/>
<path d="M516 10L515.1 6.400M516 10L518.7 9.5" stroke="#222" stroke-width="1.1" fill="none" stroke-linecap="round"/>
<path d="M516 12.500v1.2" stroke="#4f8fe8" stroke-width="1"/>
<path d="M530.8 9h5.400l-2.700 3z" fill="#000"/>
<rect x="547.5" y="3.4" width="15.3" height="13.3" fill="#fff" stroke="#2f6fc4" stroke-width="1"/>
<rect x="548" y="3.9" width="14.3" height="1.7" fill="#5b9be6"/>
<rect x="548" y="10.4" width="14.3" height=".9" fill="#2f6fc4"/>
<path d="M549.5 9.300L551.3 9.100L552.5 8L553.8 8L555 7.300L556.3 8.300L558 8.200L559.5 7.400L561 7.4" stroke="#b01c10" stroke-width="1.2" fill="none"/>
<path d="M550 14.600L551.8 14.400L553.3 13.700L555 14.700L556.5 14.200L558 12.600L559.5 13.200L560.8 14.6" stroke="#1a9a2a" stroke-width="1.2" fill="none"/>
<path d="M569.9 9h5.400l-2.700 3z" fill="#000"/>
<rect x="581" y="0" width="1" height="22" fill="#a0a0a0" shape-rendering="crispEdges"/>
<rect x="585" y="0" width="3" height="1" fill="#a6a6a6" shape-rendering="crispEdges"/>
<rect x="585" y="2" width="3" height="1" fill="#a6a6a6" shape-rendering="crispEdges"/>
<rect x="585" y="4" width="3" height="1" fill="#a6a6a6" shape-rendering="crispEdges"/>
<rect x="585" y="6" width="3" height="1" fill="#a6a6a6" shape-rendering="crispEdges"/>
<rect x="585" y="8" width="3" height="1" fill="#a6a6a6" shape-rendering="crispEdges"/>
<rect x="585" y="10" width="3" height="1" fill="#a6a6a6" shape-rendering="crispEdges"/>
<rect x="585" y="12" width="3" height="1" fill="#a6a6a6" shape-rendering="crispEdges"/>
<rect x="585" y="14" width="3" height="1" fill="#a6a6a6" shape-rendering="crispEdges"/>
<rect x="585" y="16" width="3" height="1" fill="#a6a6a6" shape-rendering="crispEdges"/>
<rect x="585" y="18" width="3" height="1" fill="#a6a6a6" shape-rendering="crispEdges"/>
<rect x="591" y="0" width="1" height="20" fill="#a0a0a0" shape-rendering="crispEdges"/>
<rect x="592" y="0" width="24" height="20" fill="#f9f9f9" shape-rendering="crispEdges"/>
<path d="M599.6 3.200V14.300L602.3 11.800L604.4 16.500L606.2 15.700L604.1 11.200L607.8 11.100Z" fill="#4a4a4a"/>
<g fill="#555555" shape-rendering="crispEdges"><rect x="631" y="3" width="1" height="14"/><rect x="624" y="10" width="15" height="1"/></g>
<rect x="630" y="9" width="3" height="3" fill="#f0f0f0" shape-rendering="crispEdges"/><rect x="631" y="10" width="1" height="1" fill="#888" shape-rendering="crispEdges"/>
<rect x="648" y="0" width="1" height="20" fill="#a0a0a0" shape-rendering="crispEdges"/>
<g fill="#555555" shape-rendering="crispEdges"><rect x="665" y="4" width="1" height="13"/><rect x="688" y="10" width="12" height="1"/></g>
<path d="M715.6 17L728.2 5" stroke="#555555" stroke-width="1.1" fill="none"/>
<g fill="none"><path d="M741.8 11.600L749.8 4.100M746.9 16.800L755.8 8.2" stroke="#5a5a5a" stroke-width=".8"/><path d="M742.9 15.400L744.4 16.600L744.4 9.600M744.4 13.600L747.4 11.200M747.4 13.800L747.4 8.400M747.4 10.800L750.5 8.800M750.5 12.600L750.5 6.200M750.5 8.400L753.5 6.400M753.7 9.400L753.4 2.200M753.4 4.600L755 4.300M753.6 8.300L755.4 8.7" stroke="#3c3c3c" stroke-width="1.15"/></g>
<path d="M753 14.200H756.800V15.300H754.200V16H756.500V17H754.200V17.800H756.900V18.900H753Z" fill="#333"/>
<path d="M771 3.500H784" stroke="#444" stroke-width="1" stroke-dasharray="1 1" shape-rendering="crispEdges"/>
<path d="M771 6.500H784" stroke="#444" stroke-width="1" stroke-dasharray="1 1" shape-rendering="crispEdges"/>
<path d="M771 10.500H784" stroke="#444" stroke-width="1" stroke-dasharray="1 1" shape-rendering="crispEdges"/>
<path d="M771 14.500H780" stroke="#444" stroke-width="1" stroke-dasharray="1 1" shape-rendering="crispEdges"/>
<path d="M781.2 14.200H784.800V15.300H782.400V16.100H784.500V17.200H782.400V18.900H781.200Z" fill="#333"/>
<path d="M805.1 6H806.800L809.8 15H808.200L807.4 12.600H804.500L803.7 15H802.100ZM805.950 7.600L804.9 11.300H807Z" fill="#585858"/>
<rect x="828.5" y="4.5" width="11" height="12" fill="none" stroke="#444" stroke-width="1" stroke-dasharray="1 1" shape-rendering="crispEdges"/>
<rect x="827.3" y="3.5" width="2" height="1.2" fill="#444"/>
<path d="M830.2 7H838.200V8.600H835.100V15H833.200V8.600H830.200Z" fill="#555"/>
<path d="M858.7 3.700L862.7 7L858.7 8.600L854.8 7Z M865.7 17.100L869.6 13.700L865.7 12.200L861.9 13.700Z" fill="#555"/>
<path d="M857 11L859.6 13.300L864.4 8.2" stroke="#555" stroke-width="1.5" fill="none"/>
<path d="M875.8 9h5.400l-2.700 3z" fill="#000"/>
<rect x="887" y="0" width="1" height="22" fill="#a0a0a0" shape-rendering="crispEdges"/>
<rect x="891" y="0" width="3" height="1" fill="#a6a6a6" shape-rendering="crispEdges"/>
<rect x="891" y="2" width="3" height="1" fill="#a6a6a6" shape-rendering="crispEdges"/>
<rect x="891" y="4" width="3" height="1" fill="#a6a6a6" shape-rendering="crispEdges"/>
<rect x="891" y="6" width="3" height="1" fill="#a6a6a6" shape-rendering="crispEdges"/>
<rect x="891" y="8" width="3" height="1" fill="#a6a6a6" shape-rendering="crispEdges"/>
<rect x="891" y="10" width="3" height="1" fill="#a6a6a6" shape-rendering="crispEdges"/>
<rect x="891" y="12" width="3" height="1" fill="#a6a6a6" shape-rendering="crispEdges"/>
<rect x="891" y="14" width="3" height="1" fill="#a6a6a6" shape-rendering="crispEdges"/>
<rect x="891" y="16" width="3" height="1" fill="#a6a6a6" shape-rendering="crispEdges"/>
<rect x="891" y="18" width="3" height="1" fill="#a6a6a6" shape-rendering="crispEdges"/>
<rect x="1038" y="0" width="24" height="20" fill="#f9f9f9" shape-rendering="crispEdges"/>
<rect x="1037" y="0" width="1" height="20" fill="#a0a0a0" shape-rendering="crispEdges"/>
<rect x="1148" y="0" width="1" height="20" fill="#a0a0a0" shape-rendering="crispEdges"/>
<circle cx="1618.6" cy="7.5" r="3.7" fill="#f2f4f8" stroke="#2a5ad0" stroke-width="1.1"/>
<path d="M1615.8 10.400L1611.5 14.8" stroke="#2a5ad0" stroke-width="2.2" stroke-linecap="round"/>
<path d="M1636.5 8.500C1638 6.6 1644 6.3 1646.5 8.500C1648.5 10.5 1647.5 14.5 1644 15.500C1642 16 1640.5 15.8 1639.8 15.700L1638.3 18.300L1638.2 15.200C1635.5 13.8 1635 10.5 1636.5 8.500Z" fill="#e2e4ea" stroke="#9a9ea6" stroke-width=".9"/>
<circle cx="1649.4" cy="7.2" r="8.3" fill="url(#rd)"/>
<path d="M1647 5.300L1649.3 3.200H1650.400V10.700H1652V11.900H1647V10.700H1648.900V5L1647.5 6.300Z" fill="#fff"/>
</svg>
<div class="tf" style="left:888.75px">M1</div><div class="tf" style="left:916.75px">M5</div><div class="tf" style="left:944.75px">M15</div><div class="tf" style="left:972.75px">M30</div><div class="tf" style="left:1000.75px">H1</div><div class="tf" style="left:1028.75px">H4</div><div class="tf" style="left:1056.75px">D1</div><div class="tf" style="left:1084.75px">W1</div><div class="tf" style="left:1112.75px">MN</div>
</body></html>
